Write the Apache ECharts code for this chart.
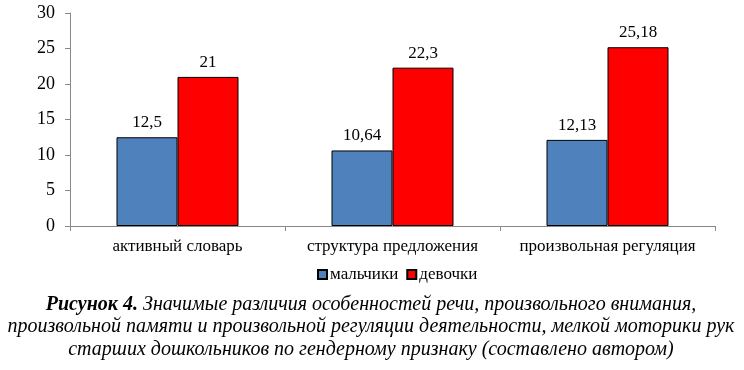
<!DOCTYPE html>
<html><head><meta charset="utf-8">
<script src="https://cdn.jsdelivr.net/npm/echarts@6/dist/echarts.min.js"></script>
<style>html,body{margin:0;padding:0;background:#fff}#c{width:744px;height:370px}</style>
</head><body><div id="c"></div>
<script>
var categories = ['активный словарь', 'структура предложения', 'произвольная регуляция'];
var boys = [12.5, 10.64, 12.13];
var girls = [21, 22.3, 25.18];
var seriesNames = ['мальчики', 'девочки'];
var yTicks = [0, 5, 10, 15, 20, 25, 30];
var captionLines = [
  ['Рисунок 4.', ' Значимые различия особенностей речи, произвольного внимания,'],
  ['', 'произвольной памяти и произвольной регуляции деятельности, мелкой моторики рук'],
  ['', 'старших дошкольников по гендерному признаку (составлено автором)']
];

var serif = '"Liberation Serif", "DejaVu Serif", serif';
var chart = echarts.init(document.getElementById('c'));
function fmt(p){ return String(p.value).replace('.', ','); }
var captionY = [305, 327, 350];
var graphics = captionLines.map(function(l, i){
  var t = (l[0] ? '{b|' + l[0] + '}' : '') + '{i|' + l[1] + '}';
  return {
    type: 'text', x: 371, y: captionY[i],
    style: {
      text: t, align: 'center', verticalAlign: 'middle',
      rich: {
        b: {fontFamily: serif, fontSize: 20, fontStyle: 'italic', fontWeight: 'bold', fill: '#000'},
        i: {fontFamily: serif, fontSize: 20, fontStyle: 'italic', fill: '#000'}
      }
    }
  };
});
chart.setOption({
  animation: false,
  grid: {left: 70, right: 29, top: 13, bottom: 144, containLabel: false},
  legend: {
    data: seriesNames, top: 261, left: 312, itemWidth: 9, itemHeight: 9, itemGap: 8,
    icon: 'rect',
    textStyle: {fontFamily: serif, fontSize: 17, color: '#000', padding: [0,0,0,-2]}
  },
  xAxis: {
    type: 'category', data: categories,
    axisLine: {lineStyle: {color: '#888'}},
    axisTick: {show: true, length: 5, lineStyle: {color: '#888'}},
    axisLabel: {fontFamily: serif, fontSize: 17, color: '#000', margin: 12, interval: 0}
  },
  yAxis: {
    type: 'value', min: yTicks[0], max: yTicks[yTicks.length-1], interval: 5,
    axisLine: {show: true, lineStyle: {color: '#888'}},
    axisTick: {show: true, length: 5, lineStyle: {color: '#888'}},
    splitLine: {show: false},
    axisLabel: {fontFamily: serif, fontSize: 18, color: '#000', margin: 15}
  },
  series: [
    {name: seriesNames[0], type: 'bar', data: boys, barWidth: 61, barGap: '0%',
     itemStyle: {color: '#4F81BD', borderColor: '#000', borderWidth: 1},
     label: {show: true, position: 'top', distance: 6, formatter: fmt, fontFamily: serif, fontSize: 17, color: '#000'}},
    {name: seriesNames[1], type: 'bar', data: girls, barWidth: 61, barGap: '0%',
     itemStyle: {color: '#FF0000', borderColor: '#000', borderWidth: 1},
     label: {show: true, position: 'top', distance: 6, formatter: fmt, fontFamily: serif, fontSize: 17, color: '#000'}}
  ],
  graphic: graphics
});
</script></body></html>
